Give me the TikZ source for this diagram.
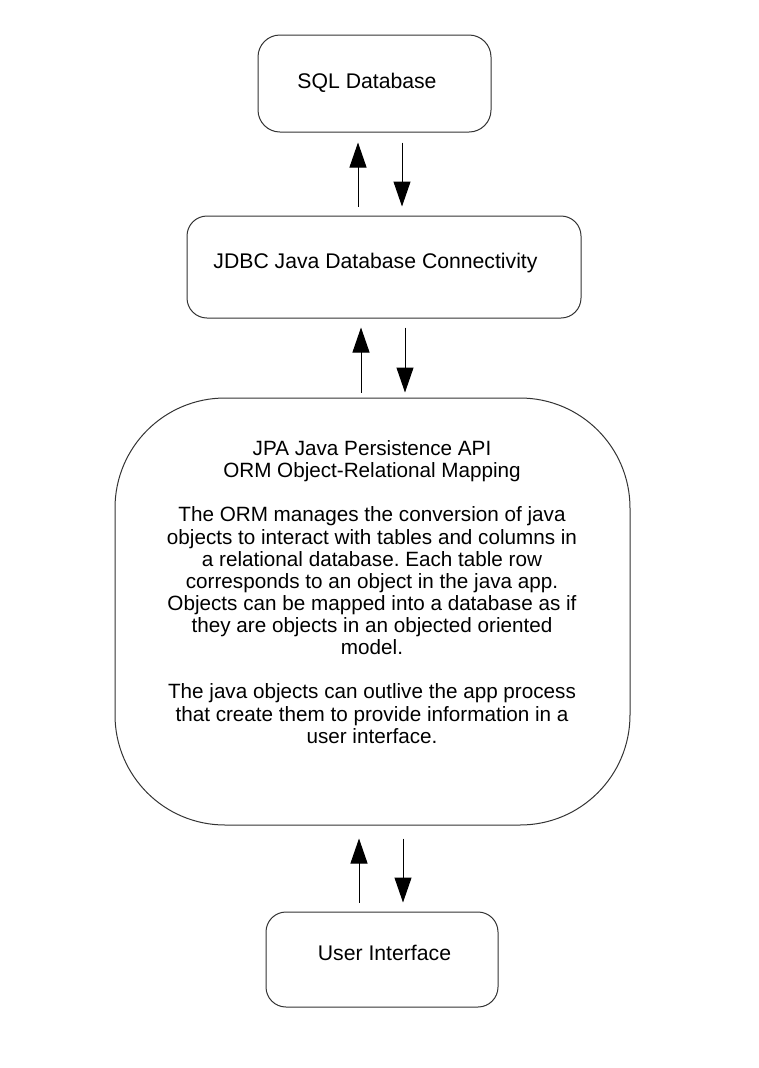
\documentclass[tikz,border=0pt]{standalone}
\usepackage{fontspec}
\setmainfont{Liberation Sans}
\usetikzlibrary{arrows.meta,calc}
\frenchspacing
\tikzset{
  box/.style={draw=black!80, line width=0.75pt, fill=white, inner sep=0pt},
  lbl/.style={inner sep=0pt, align=center, font=\fontsize{15.9pt}{16.6pt}\selectfont},
  ormlbl/.style={inner sep=0pt, align=center, font=\fontsize{15.5pt}{16.6pt}\selectfont},
  arr/.style={draw=black, line width=0.75pt, -{Triangle[width=12.75pt,length=18.75pt]}},
}
\begin{document}
\begin{tikzpicture}[x=0.75pt,y=-0.75pt]
\useasboundingbox (0,0) rectangle (758,1068);
% boxes
\node[box, rounded corners=16.5pt, minimum width=174.75pt, minimum height=72.75pt] (sql) at (374.5,83.5) {};
\node[box, rounded corners=15pt, minimum width=295.5pt, minimum height=76.5pt] (jdbc) at (384,267) {};
\node[box, rounded corners=82.5pt, minimum width=386.25pt, minimum height=320.25pt] (orm) at (372.5,611.5) {};
\node[box, rounded corners=15pt, minimum width=174pt, minimum height=71.25pt] (ui) at (382,959.5) {};
% labels
\node[lbl] (sqlt) at (367,83) {SQL Database};
\node[lbl] (jdbct) at (375.5,263) {JDBC Java Database Connectivity};
\node[ormlbl] (ormt) at (372,592) {JPA Java Persistence API\\
ORM Object-Relational Mapping\\[16.6pt]
The ORM manages the conversion of java\\
objects to interact with tables and columns in\\
a relational database. Each table row\\
corresponds to an object in the java app.\\
Objects can be mapped into a database as if\\
they are objects in an objected oriented\\
model.\\[16.6pt]
The java objects can outlive the app process\\
that create them to provide information in a\\
user interface.};
\node[lbl] (uit) at (384.5,953) {User Interface};
% connectors
\draw[arr] ($(jdbc.north)+(-26,-9)$) -- ($(sql.south)+(-16.5,10)$);
\draw[arr] ($(sql.south)+(27.5,10)$) -- ($(jdbc.north)+(18,-9)$);
\draw[arr] ($(orm.north)+(-11.5,-5)$) -- ($(jdbc.south)+(-23,9)$);
\draw[arr] ($(jdbc.south)+(21,9)$) -- ($(orm.north)+(32.5,-5)$);
\draw[arr] ($(ui.north)+(-23,-9)$) -- ($(orm.south)+(-13.5,13)$);
\draw[arr] ($(orm.south)+(30.5,13)$) -- ($(ui.north)+(21,-9)$);
\end{tikzpicture}
\end{document}
